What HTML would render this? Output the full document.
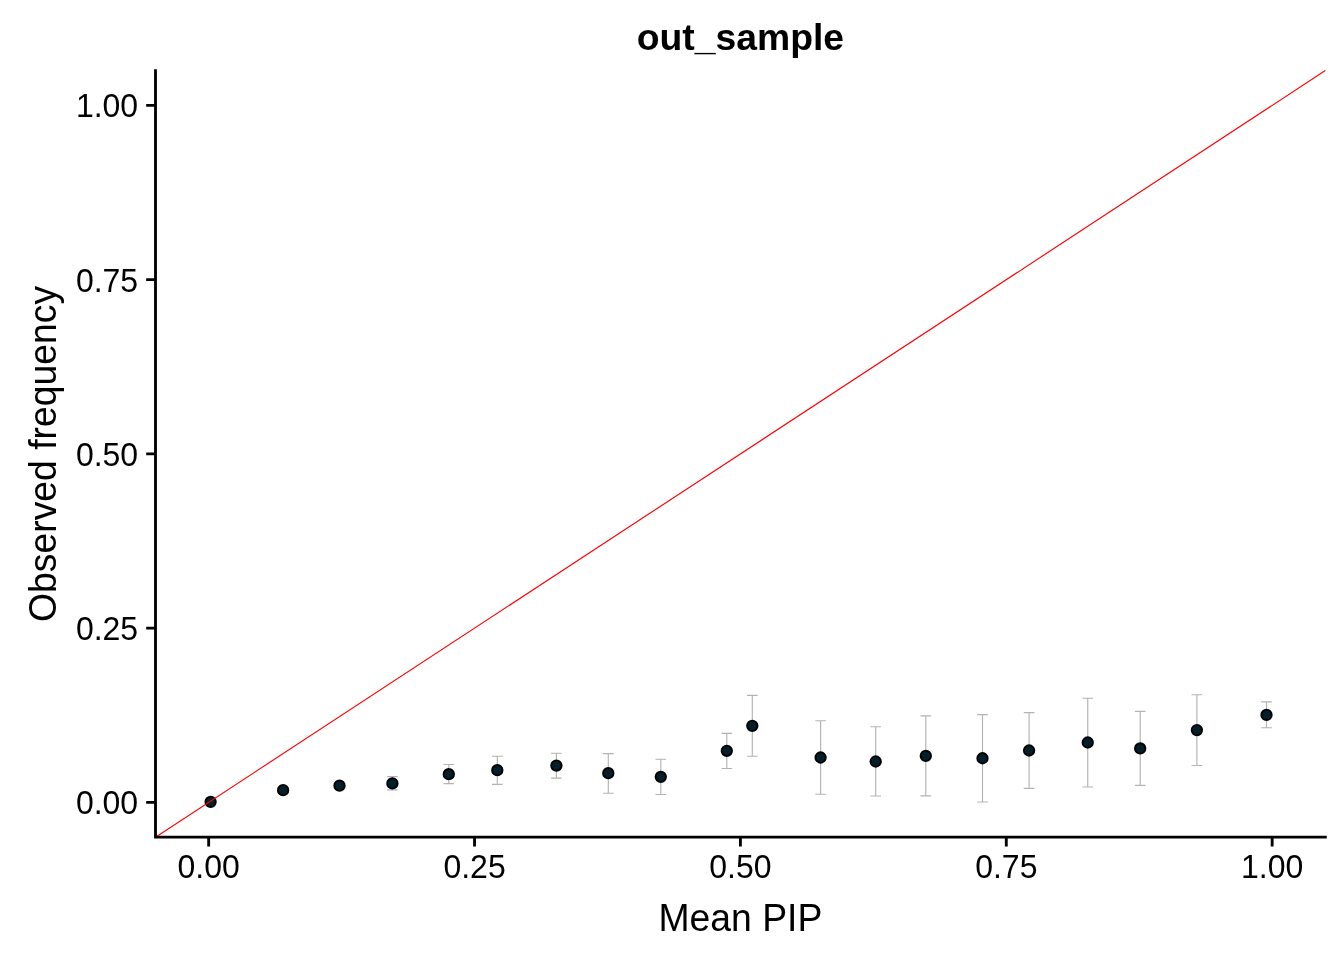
<!DOCTYPE html>
<html><head><meta charset="utf-8"><title>out_sample</title>
<style>
html,body{margin:0;padding:0;background:#fff;}
body{width:1344px;height:960px;overflow:hidden;}
svg{display:block;}
text{font-family:'Liberation Sans', Arial, Helvetica, sans-serif;}
svg{will-change:transform;}
</style></head><body>
<svg xmlns="http://www.w3.org/2000/svg" width="1344" height="960" viewBox="0 0 1344 960">
<rect x="0" y="0" width="1344" height="960" fill="#ffffff"/>
<path d="M387.08 776.60H397.72M392.40 776.60V789.90M387.08 789.90H397.72M443.48 764.50H454.12M448.80 764.50V783.60M443.48 783.60H454.12M491.98 756.30H502.62M497.30 756.30V784.40M491.98 784.40H502.62M551.08 753.30H561.72M556.40 753.30V778.10M551.08 778.10H561.72M602.98 753.60H613.62M608.30 753.60V793.20M602.98 793.20H613.62M655.48 759.20H666.12M660.80 759.20V794.50M655.48 794.50H666.12M721.48 733.40H732.12M726.80 733.40V768.50M721.48 768.50H732.12M746.98 695.40H757.62M752.30 695.40V756.25M746.98 756.25H757.62M815.28 720.70H825.92M820.60 720.70V794.30M815.28 794.30H825.92M870.38 726.70H881.02M875.70 726.70V796.00M870.38 796.00H881.02M920.48 715.90H931.12M925.80 715.90V795.90M920.48 795.90H931.12M977.18 714.60H987.82M982.50 714.60V802.00M977.18 802.00H987.82M1023.78 712.60H1034.42M1029.10 712.60V788.40M1023.78 788.40H1034.42M1082.43 698.25H1093.07M1087.75 698.25V787.00M1082.43 787.00H1093.07M1134.88 711.40H1145.52M1140.20 711.40V785.40M1134.88 785.40H1145.52M1191.58 694.80H1202.22M1196.90 694.80V765.50M1191.58 765.50H1202.22M1261.18 701.90H1271.82M1266.50 701.90V727.80M1261.18 727.80H1271.82" stroke="#b3b3b3" stroke-width="1.14" fill="none"/>
<g fill="#03202a" stroke="#000" stroke-width="1.89">
<circle cx="210.60" cy="801.80" r="5.21"/><circle cx="283.10" cy="790.20" r="5.21"/><circle cx="339.50" cy="785.70" r="5.21"/><circle cx="392.40" cy="783.40" r="5.21"/><circle cx="448.80" cy="774.20" r="5.21"/><circle cx="497.30" cy="770.20" r="5.21"/><circle cx="556.40" cy="765.60" r="5.21"/><circle cx="608.30" cy="773.20" r="5.21"/><circle cx="660.80" cy="776.80" r="5.21"/><circle cx="726.80" cy="750.80" r="5.21"/><circle cx="752.30" cy="725.80" r="5.21"/><circle cx="820.60" cy="757.50" r="5.21"/><circle cx="875.70" cy="761.50" r="5.21"/><circle cx="925.80" cy="755.90" r="5.21"/><circle cx="982.50" cy="758.25" r="5.21"/><circle cx="1029.10" cy="750.50" r="5.21"/><circle cx="1087.75" cy="742.50" r="5.21"/><circle cx="1140.20" cy="748.40" r="5.21"/><circle cx="1196.90" cy="730.10" r="5.21"/><circle cx="1266.50" cy="714.90" r="5.21"/>
</g>
<line x1="155.50" y1="837.20" x2="1325.33" y2="70.60" stroke="#ff0000" stroke-width="1.14"/>
<path d="M155.50 70.60V837.20H1325.33" stroke="#000" stroke-width="2.845" fill="none" stroke-linecap="square"/>
<path d="M146.17 802.35H155.50M208.67 837.20V846.53M146.17 628.13H155.50M474.54 837.20V846.53M146.17 453.90H155.50M740.41 837.20V846.53M146.17 279.67H155.50M1006.29 837.20V846.53M146.17 105.45H155.50M1272.16 837.20V846.53" stroke="#000" stroke-width="2.845" fill="none"/>
<g font-size="32" fill="#000">
<text transform="translate(138.17 814.30) scale(1 1.03)" text-anchor="end">0.00</text><text transform="translate(138.17 640.00) scale(1 1.03)" text-anchor="end">0.25</text><text transform="translate(138.17 466.30) scale(1 1.03)" text-anchor="end">0.50</text><text transform="translate(138.17 292.10) scale(1 1.03)" text-anchor="end">0.75</text><text transform="translate(138.17 117.10) scale(1 1.03)" text-anchor="end">1.00</text>
<text transform="translate(208.67 877.90) scale(1 1.03)" text-anchor="middle">0.00</text><text transform="translate(474.54 877.90) scale(1 1.03)" text-anchor="middle">0.25</text><text transform="translate(740.41 877.90) scale(1 1.03)" text-anchor="middle">0.50</text><text transform="translate(1006.29 877.90) scale(1 1.03)" text-anchor="middle">0.75</text><text transform="translate(1272.16 877.90) scale(1 1.03)" text-anchor="middle">1.00</text>
</g>
<text transform="translate(740.41 930.80) scale(1 1.04)" font-size="37.33" text-anchor="middle" fill="#000">Mean PIP</text>
<text transform="translate(55.90 453.90) rotate(-90) scale(1 1.015)" font-size="37.33" text-anchor="middle" fill="#000">Observed frequency</text>
<text transform="translate(740.41 49.60) scale(1 1.01)" font-size="37.33" font-weight="bold" text-anchor="middle" fill="#000">out_sample</text>
</svg>
</body></html>
